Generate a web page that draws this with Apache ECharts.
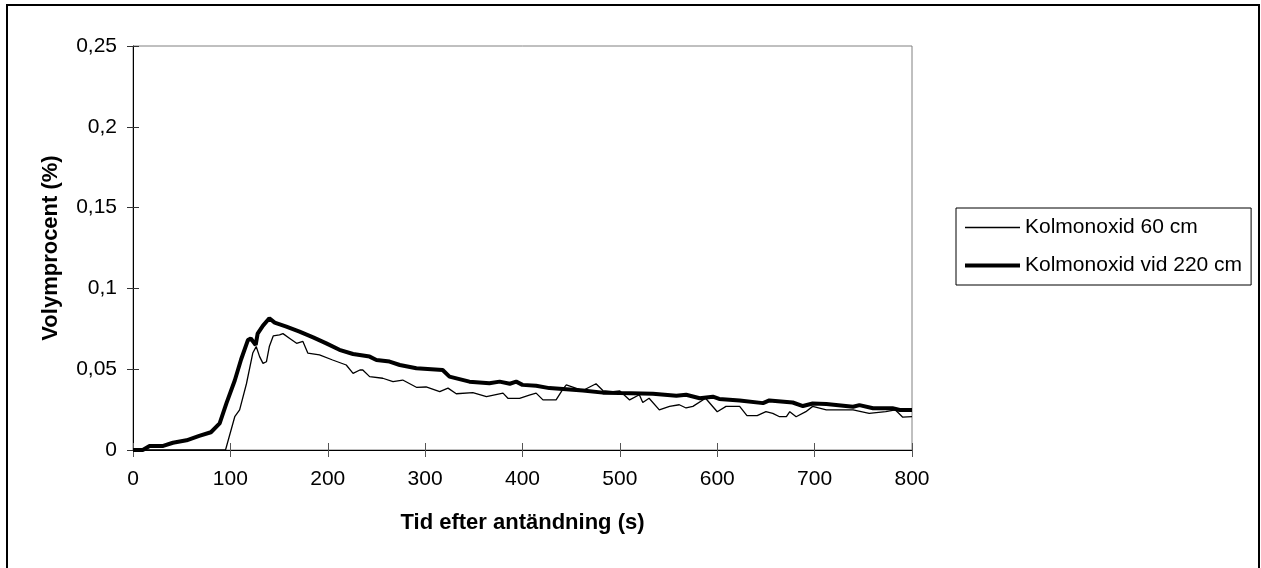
<!DOCTYPE html>
<html>
<head>
<meta charset="utf-8">
<script src="https://cdn.jsdelivr.net/npm/echarts@6/dist/echarts.min.js"></script>
<style>
html,body{margin:0;padding:0;background:#fff;}
#chart{width:1261px;height:568px;}
</style>
</head>
<body>
<div id="chart"></div>
<script>
// Data
var seriesNames = ['Kolmonoxid 60 cm', 'Kolmonoxid vid 220 cm'];

var time60 = [0, 95, 104.5, 109.5, 116.5, 123, 126.5, 130, 133.5, 137, 140, 144, 150.5, 154, 161, 168, 174.5, 179.5, 191.5, 205, 219, 226, 233, 236, 243, 256.5, 267, 277, 291, 301, 315, 323.5, 332, 349, 363, 380, 385, 397, 407, 414, 421, 434.5, 441.5, 445, 462, 475.5, 482.5, 493, 500, 510, 520, 523.5, 530, 540.5, 551, 561, 568, 575, 588, 600, 609, 623, 630.5, 641, 650, 657, 664, 671, 674.5, 681, 691, 698, 712, 739.5, 756, 773, 783, 790.5, 800];
var value60 = [0, 0, 0.0206, 0.0248, 0.041, 0.06, 0.064, 0.0578, 0.0536, 0.0546, 0.064, 0.0706, 0.0712, 0.072, 0.069, 0.066, 0.0672, 0.06, 0.0588, 0.0557, 0.0526, 0.0474, 0.0495, 0.0495, 0.0454, 0.0444, 0.0423, 0.0433, 0.0388, 0.039, 0.0361, 0.0383, 0.0348, 0.0355, 0.033, 0.0352, 0.032, 0.032, 0.034, 0.0352, 0.031, 0.031, 0.0377, 0.0403, 0.0368, 0.041, 0.0368, 0.0361, 0.0365, 0.031, 0.0342, 0.0294, 0.032, 0.0248, 0.027, 0.028, 0.026, 0.027, 0.032, 0.0237, 0.027, 0.027, 0.0213, 0.0213, 0.0237, 0.0227, 0.0206, 0.0206, 0.0237, 0.0206, 0.0237, 0.027, 0.0248, 0.0248, 0.0227, 0.0237, 0.0248, 0.0203, 0.0206];

var time220 = [0, 10, 17, 31, 41, 55, 68, 80, 89, 96, 104.5, 111, 118, 121, 126, 128, 133.5, 140, 145.5, 157.5, 171, 185, 198.5, 212, 226, 243, 250, 263.5, 274, 291, 318, 325, 345.5, 366, 376.5, 387, 393.5, 400, 414, 427.5, 441.5, 462, 482.5, 500, 534, 558, 568, 582, 595.5, 602, 623, 647, 653.5, 677.5, 688, 698, 712, 739.5, 746, 760, 780, 787.5, 800];
var value220 = [0, 0, 0.0025, 0.0025, 0.0045, 0.006, 0.0087, 0.011, 0.0165, 0.029, 0.043, 0.056, 0.068, 0.069, 0.065, 0.072, 0.077, 0.0815, 0.0788, 0.0763, 0.0733, 0.0697, 0.066, 0.062, 0.0594, 0.0578, 0.0557, 0.0547, 0.0526, 0.0506, 0.0495, 0.0454, 0.0423, 0.0413, 0.0423, 0.041, 0.0423, 0.0403, 0.0397, 0.0383, 0.0377, 0.0368, 0.0355, 0.0352, 0.0348, 0.0336, 0.0342, 0.032, 0.033, 0.0316, 0.0307, 0.029, 0.0307, 0.0294, 0.0272, 0.0288, 0.0285, 0.0268, 0.0278, 0.0258, 0.0258, 0.0248, 0.0248];

var xTickLabels = ['0', '100', '200', '300', '400', '500', '600', '700', '800'];
var yTickLabels = ['0', '0,05', '0,1', '0,15', '0,2', '0,25'];
var xTitle = 'Tid efter antändning (s)';
var yTitle = 'Volymprocent (%)';

function pairs(t, v) { return t.map(function (x, i) { return [x, v[i]]; }); }

var FONT = 'Liberation Sans, Arial, sans-serif';
var THIN = 1.3, THICK = 4;
var chart = echarts.init(document.getElementById('chart'), null, { renderer: 'canvas' });

var xBase = { type: 'value', min: 0, max: 800, interval: 100, position: 'bottom' };
var yBase = { type: 'value', min: 0, max: 0.25, interval: 0.05, position: 'left' };

chart.setOption({
  animation: false,
  backgroundColor: '#fff',
  graphic: [{
    type: 'rect', silent: true, z: 100,
    shape: { x: 7, y: 5, width: 1252, height: 700 },
    style: { fill: 'none', stroke: '#000', lineWidth: 2 }
  }],
  grid: {
    left: 133, top: 46, right: 349, bottom: 118,
    show: true, borderColor: '#808080', borderWidth: 1, backgroundColor: 'transparent'
  },
  legend: {
    orient: 'vertical',
    left: 956, top: 208,
    data: [
      { name: seriesNames[0], lineStyle: { width: THIN, color: '#000' } },
      { name: seriesNames[1], lineStyle: { width: THICK, color: '#000' } }
    ],
    borderColor: '#000', borderWidth: 1,
    padding: [9, 9, 9, 7],
    itemGap: 17,
    itemWidth: 55, itemHeight: 14,
    itemStyle: { opacity: 0 },
    lineStyle: { width: 'inherit' },
    textStyle: { fontFamily: FONT, fontSize: 21, color: '#000' }
  },
  xAxis: [
    Object.assign({}, xBase, {
      name: xTitle, nameLocation: 'middle', nameGap: 62,
      nameTextStyle: { fontFamily: FONT, fontSize: 22, fontWeight: 'bold', color: '#000' },
      axisLine: { show: true, lineStyle: { color: '#000', width: 1 } },
      axisTick: { show: true, inside: false, length: 7, lineStyle: { color: '#555' } },
      axisLabel: {
        margin: 19, fontFamily: FONT, fontSize: 21, color: '#000',
        formatter: function (v) { return xTickLabels[Math.round(v / 100)]; }
      },
      splitLine: { show: false }
    }),
    Object.assign({}, xBase, {
      axisLine: { show: false },
      axisTick: { show: true, inside: true, length: 7, lineStyle: { color: '#555' } },
      axisLabel: { show: false },
      splitLine: { show: false }
    })
  ],
  yAxis: [
    Object.assign({}, yBase, {
      name: yTitle, nameLocation: 'middle', nameGap: 71, nameRotate: 90,
      nameTextStyle: { fontFamily: FONT, fontSize: 22, fontWeight: 'bold', color: '#000' },
      axisLine: { show: true, lineStyle: { color: '#000', width: 1 } },
      axisTick: { show: true, inside: false, length: 6, lineStyle: { color: '#333' } },
      axisLabel: {
        margin: 16, fontFamily: FONT, fontSize: 21, color: '#000',
        formatter: function (v) { return yTickLabels[Math.round(v / 0.05)]; }
      },
      splitLine: { show: false }
    }),
    Object.assign({}, yBase, {
      offset: 0,
      axisLine: { show: false },
      axisTick: { show: true, inside: true, length: 6, lineStyle: { color: '#333' } },
      axisLabel: { show: false },
      splitLine: { show: false }
    })
  ],
  series: [
    {
      name: seriesNames[1], type: 'line', xAxisIndex: 0, yAxisIndex: 0,
      data: pairs(time220, value220),
      symbol: 'none', showSymbol: false,
      lineStyle: { color: '#000', width: THICK },
      itemStyle: { color: '#000' }, z: 3
    },
    {
      name: seriesNames[0], type: 'line', xAxisIndex: 0, yAxisIndex: 0,
      data: pairs(time60, value60),
      symbol: 'none', showSymbol: false,
      lineStyle: { color: '#000', width: THIN },
      itemStyle: { color: '#000' }, z: 4
    }
  ]
});
</script>
</body>
</html>
